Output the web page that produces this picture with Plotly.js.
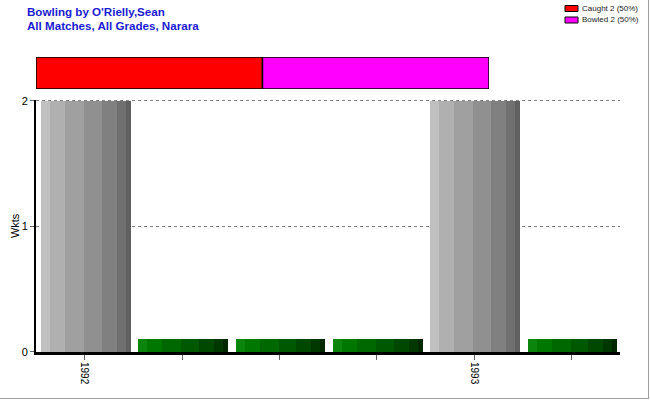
<!DOCTYPE html>
<html><head><meta charset="utf-8">
<script src="https://cdn.plot.ly/plotly-3.0.1.min.js"></script>
<style>
body{margin:0;padding:0;background:#fff;}
#wrap{position:relative;width:650px;height:400px;overflow:hidden;}
#frame{position:absolute;left:0;top:0;width:648px;height:398px;border-right:1px solid #a0a0a0;border-bottom:1px solid #a0a0a0;pointer-events:none;}
</style>
</head><body>
<div id="wrap"><div id="chart" style="width:650px;height:400px;"></div><div id="frame"></div></div>
<script>
// ---- data ----
const tickLabels = ["1992", "", "", "", "1993", ""];
const wickets = [2, null, null, null, 2, null];      // matches with wickets
const noWickets = [null, 0.1, 0.1, 0.1, null, 0.1];  // matches without wickets (drawn as stub)
const dismissalNames = ["Caught", "Bowled"];
const dismissalCounts = [2, 2];
const titleLines = ["Bowling by O'Rielly,Sean", "All Matches, All Grades, Narara"];

// ---- styling / geometry ----
const W = 650, H = 400, L = 36, R = 30, T = 57, B = 48;
const PW = W - L - R, PH = H - T - B;
const px2x = p => (p - L) / PW;
const py2y = p => (H - B - p) / PH;

const stripeEdges = [0, 0.1, 0.27, 0.48, 0.68, 0.85, 0.95, 1.0];
const grayShades = ["#c0c0c0", "#b0b0b0", "#a0a0a0", "#909090", "#808080", "#707070", "#606060"];
const greenShades = ["#0b850b", "#007800", "#006800", "#005800", "#004800", "#003800", "#002800"];
const barW = 0.915, barShift = 0.01;
const xs = tickLabels.map((_, i) => i);

const traces = [];
function addStriped(vals, shades) {
  for (let s = 0; s < shades.length; s++) {
    traces.push({
      type: "bar", x: xs, y: vals,
      width: (stripeEdges[s + 1] - stripeEdges[s]) * barW + 0.004,
      offset: -barW / 2 + barShift + stripeEdges[s] * barW,
      marker: {color: shades[s], line: {width: 0}},
      showlegend: false, hoverinfo: "skip", xaxis: "x", yaxis: "y"
    });
  }
}
addStriped(wickets, grayShades);
addStriped(noWickets, greenShades);

const total = dismissalCounts.reduce((a, b) => a + b, 0);
const dColors = ["#ff0000", "#ff00ff"];
const shapes = [], annotations = [];
let base = 0;
dismissalNames.forEach((n, i) => {
  traces.push({
    type: "bar", orientation: "h", y: [0], x: [dismissalCounts[i]], base: [base],
    width: 1, showlegend: false,
    marker: {color: dColors[i], line: {color: "#000", width: 1.5}},
    xaxis: "x2", yaxis: "y2", hoverinfo: "skip"
  });
  base += dismissalCounts[i];
  // custom legend entry
  const cy = 8.5 + i * 11.5;
  shapes.push({type: "rect", xref: "paper", yref: "paper",
    x0: px2x(565), x1: px2x(578), y0: py2y(cy - 3), y1: py2y(cy + 3),
    fillcolor: dColors[i], line: {color: "#000", width: 1}});
  annotations.push({xref: "paper", yref: "paper", x: px2x(580), y: py2y(cy),
    xanchor: "left", yanchor: "middle", showarrow: false,
    text: `${n} ${dismissalCounts[i]} (${Math.round(dismissalCounts[i] / total * 100)}%)`,
    font: {size: 8, color: "#222", family: "Arial, Liberation Sans, sans-serif"}});
});
titleLines.forEach((t, i) => {
  annotations.push({xref: "paper", yref: "paper", x: px2x(25), y: py2y(11.5 + i * 14),
    xanchor: "left", yanchor: "middle", showarrow: false,
    text: "<b>" + t + "</b>",
    font: {size: 11.6, color: "#1a1ad2", family: "Arial, Liberation Sans, sans-serif"}});
});

const yTop = 2.01;
const layout = {
  width: W, height: H,
  margin: {l: L, r: R, t: T, b: B, pad: 0},
  paper_bgcolor: "#fff", plot_bgcolor: "#fff",
  barmode: "overlay", bargap: 0,
  font: {family: "Arial, Liberation Sans, sans-serif", size: 11, color: "#000"},
  showlegend: false,
  shapes: shapes, annotations: annotations,
  xaxis: {
    type: "linear", range: [-0.5, 5.5], domain: [0, 1],
    tickvals: xs, ticktext: tickLabels, tickangle: 90,
    ticks: "outside", ticklen: 5, tickcolor: "#666", tickwidth: 1,
    showline: true, linecolor: "#000", linewidth: 3,
    showgrid: false, zeroline: false, fixedrange: true,
    tickfont: {size: 10, color: "#000"}
  },
  yaxis: {
    range: [0, yTop], domain: [0, (251 * yTop / 2) / PH], dtick: 1,
    ticks: "outside", ticklen: 4, tickcolor: "#666",
    showline: true, linecolor: "#000", linewidth: 2,
    showgrid: true, gridcolor: "#808080", griddash: "3px,3px", gridwidth: 1,
    zeroline: false, fixedrange: true,
    tickfont: {size: 11, color: "#000"},
    title: {text: "Wkts", font: {size: 11, color: "#000"}, standoff: 0}
  },
  xaxis2: {
    anchor: "y2", domain: [0, px2x(489)], range: [0, total],
    visible: false, fixedrange: true
  },
  yaxis2: {
    anchor: "x2", domain: [py2y(89), 1], range: [-0.5, 0.5],
    visible: false, fixedrange: true
  }
};

Plotly.newPlot("chart", traces, layout, {displayModeBar: false, staticPlot: true});
</script>
</body></html>
